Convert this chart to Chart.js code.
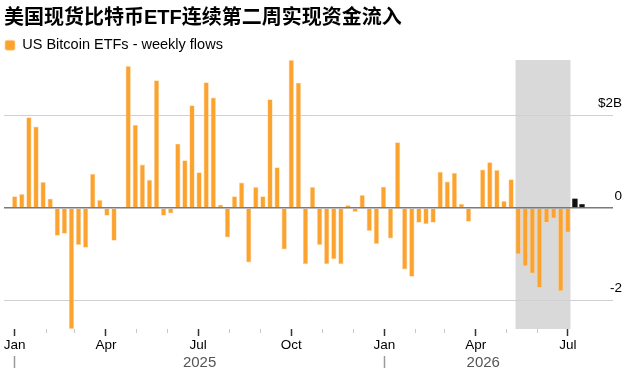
<!DOCTYPE html>
<html>
<head>
<meta charset="utf-8">
<script src="https://cdn.jsdelivr.net/npm/chart.js@4/dist/chart.umd.min.js"></script>
<style>
html, body { margin: 0; padding: 0; background: #ffffff; }
#wrap { width: 628px; height: 378px; }
</style>
</head>
<body>
<div id="wrap"><canvas id="c" width="628" height="378"></canvas></div>
<script>
// ---------- data ----------
const chartTitle = '美国现货比特币ETF连续第二周实现资金流入';
const seriesName = 'US Bitcoin ETFs - weekly flows';

const weeks = [
  '2025-01-01','2025-01-08','2025-01-15','2025-01-22','2025-01-29',
  '2025-02-05','2025-02-12','2025-02-19','2025-02-26',
  '2025-03-05','2025-03-12','2025-03-19','2025-03-26',
  '2025-04-02','2025-04-09','2025-04-16','2025-04-23','2025-04-30',
  '2025-05-07','2025-05-14','2025-05-21','2025-05-28',
  '2025-06-04','2025-06-11','2025-06-18','2025-06-25',
  '2025-07-02','2025-07-09','2025-07-16','2025-07-23','2025-07-30',
  '2025-08-06','2025-08-13','2025-08-20','2025-08-27',
  '2025-09-03','2025-09-10','2025-09-17','2025-09-24',
  '2025-10-01','2025-10-08','2025-10-15','2025-10-22','2025-10-29',
  '2025-11-05','2025-11-12','2025-11-19','2025-11-26',
  '2025-12-03','2025-12-10','2025-12-17','2025-12-24','2025-12-31',
  '2026-01-07','2026-01-14','2026-01-21','2026-01-28',
  '2026-02-04','2026-02-11','2026-02-18','2026-02-25',
  '2026-03-04','2026-03-11','2026-03-18','2026-03-25',
  '2026-04-01','2026-04-08','2026-04-15','2026-04-22','2026-04-29',
  '2026-05-06','2026-05-13','2026-05-20','2026-05-27',
  '2026-06-03','2026-06-10','2026-06-17','2026-06-24',
  '2026-07-01','2026-07-08','2026-07-15'
];

// weekly net flows, $ billions
const flows = [
  0.25, 0.30, 1.96, 1.76, 0.56,
  0.20, -0.60, -0.56, -2.62,
  -0.80, -0.86, 0.74, 0.17,
  -0.17, -0.71, 0.01, 3.07, 1.80,
  0.94, 0.61, 2.76, -0.17,
  -0.12, 1.39, 1.03, 2.22,
  0.77, 2.72, 2.39, 0.07, -0.64,
  0.25, 0.55, -1.18, 0.45,
  0.25, 2.35, 0.88, -0.90,
  3.20, 2.71, -1.22, 0.45, -0.80,
  -1.22, -1.11, -1.22, 0.06,
  -0.09, 0.28, -0.50, -0.78, 0.46,
  -0.66, 1.42, -1.33, -1.49,
  -0.32, -0.35, -0.32, 0.78,
  0.57, 0.76, 0.09, -0.30,
  0.02, 0.83, 0.99, 0.82, 0.15,
  0.62, -1.00, -1.26, -1.42,
  -1.73, -0.32, -0.23, -1.80,
  -0.53, 0.20, 0.08
];
const latestWeekCount = 2;   // most recent weeks, drawn in black

const yTicks = [-2, 0, 2];
const yTickLabels = ['-2', '0', '$2B'];

const monthTicks = [
  '2025-01-01','2025-02-01','2025-03-01','2025-04-01','2025-05-01','2025-06-01',
  '2025-07-01','2025-08-01','2025-09-01','2025-10-01','2025-11-01','2025-12-01',
  '2026-01-01','2026-02-01','2026-03-01','2026-04-01','2026-05-01','2026-06-01',
  '2026-07-01'
];
const monthTickLabels = [
  'Jan','','','Apr','','','Jul','','','Oct','','',
  'Jan','','','Apr','','','Jul'
];
const yearStarts = ['2025-01-01','2026-01-01'];
const yearLabels = ['2025','2026'];

const shadedWeeks = ['2026-05-13','2026-07-01'];

// ---------- helpers ----------
const DAY = 864e5;
const origin = Date.parse(weeks[0]);
const day = s => (Date.parse(s) - origin) / DAY;

const BAR_PCT = 0.75;
const ORANGE = '#FBA22F';
const FONT = "'Liberation Sans', Arial, sans-serif";

const cut = weeks.length - latestWeekCount;
const mainData = weeks.slice(0, cut).map((w, i) => ({ x: day(w), y: flows[i] }));
const latestData = weeks.slice(cut).map((w, i) => ({ x: day(w), y: flows[cut + i] }));

const monthVals = monthTicks.map(day);
const yearStartVals = yearStarts.map(day);
const lastWeekVal = day(weeks[weeks.length - 1]);
const yearTickList = [];
yearStartVals.forEach((v, i) => {
  const end = i + 1 < yearStartVals.length ? yearStartVals[i + 1] : lastWeekVal;
  yearTickList.push({ value: v, label: '', sep: true });
  yearTickList.push({ value: (v + end) / 2, label: yearLabels[i], sep: false });
});

const xMin = day(weeks[0]) - 10.6;
const xMax = lastWeekVal + 30.6;
const yMin = Math.min(...flows);
const yMax = Math.max(...flows);

Chart.defaults.font.family = FONT;
Chart.defaults.color = '#000';

const shadePlugin = {
  id: 'shade',
  beforeDraw(chart) {
    const { ctx, chartArea: a, scales: { x } } = chart;
    const half = 3.5 * BAR_PCT;
    const x0 = x.getPixelForValue(day(shadedWeeks[0]) - half);
    const x1 = x.getPixelForValue(day(shadedWeeks[1]) + half);
    ctx.save();
    ctx.fillStyle = '#d9d9d9';
    ctx.fillRect(x0, a.top, x1 - x0, a.bottom - a.top);
    ctx.restore();
  }
};

new Chart(document.getElementById('c'), {
  type: 'bar',
  data: {
    datasets: [
      {
        label: seriesName,
        data: mainData,
        backgroundColor: ORANGE,
        borderColor: '#FDD6A0',
        borderWidth: 0.7,
        barPercentage: BAR_PCT,
        categoryPercentage: 1,
        grouped: false
      },
      {
        label: 'latest',
        data: latestData,
        backgroundColor: '#111111',
        borderWidth: 0,
        barPercentage: BAR_PCT,
        categoryPercentage: 1,
        grouped: false
      }
    ]
  },
  options: {
    responsive: false,
    devicePixelRatio: 1,
    animation: false,
    layout: { padding: { left: 4, right: 6, top: 0, bottom: 0 } },
    plugins: {
      title: {
        display: true,
        text: chartTitle,
        align: 'start',
        color: '#000',
        font: { size: 20, weight: 'bold', family: "'Liberation Sans', 'Noto Sans CJK SC', sans-serif" },
        padding: { top: 6, bottom: 7 }
      },
      legend: {
        display: true,
        align: 'start',
        maxHeight: 23,
        labels: {
          boxWidth: 10,
          boxHeight: 10,
          padding: 1,
          color: '#000',
          font: { size: 14.5 },
          useBorderRadius: true,
          borderRadius: 2,
          filter: item => item.datasetIndex === 0
        }
      },
      tooltip: { enabled: false }
    },
    scales: {
      x: {
        type: 'linear',
        position: 'bottom',
        weight: 0,
        min: xMin,
        max: xMax,
        offset: false,
        border: { display: false },
        grid: {
          offset: false,
          drawOnChartArea: false,
          drawTicks: true,
          tickLength: 7,
          tickColor: c => monthTickLabels[c.index] ? '#333' : '#c8c8c8',
          tickWidth: c => monthTickLabels[c.index] ? 1.5 : 1,
          tickBorderDash: c => monthTickLabels[c.index] ? [] : [4, 20]
        },
        ticks: {
          autoSkip: false,
          maxRotation: 0,
          minRotation: 0,
          padding: 1,
          color: '#000',
          font: { size: 13.5 },
          callback: (v, i) => monthTickLabels[i]
        },
        afterBuildTicks: s => { s.ticks = monthVals.map(v => ({ value: v })); },
        afterFit: s => { s.height = 27; }
      },
      x2: {
        type: 'linear',
        position: 'bottom',
        weight: 1,
        min: xMin,
        max: xMax,
        offset: false,
        border: { display: false },
        grid: {
          offset: false,
          drawOnChartArea: false,
          drawTicks: true,
          tickLength: 12,
          tickColor: c => yearTickList[c.index] && yearTickList[c.index].sep ? '#9a9a9a' : 'rgba(0,0,0,0)',
          tickWidth: 1.5
        },
        ticks: {
          autoSkip: false,
          maxRotation: 0,
          minRotation: 0,
          padding: -14,
          color: '#555',
          font: { size: 15 },
          callback: (v, i) => yearTickList[i].label
        },
        afterBuildTicks: s => { s.ticks = yearTickList.map(t => ({ value: t.value })); },
        afterFit: s => { s.height = 22; }
      },
      y: {
        type: 'linear',
        position: 'right',
        min: yMin,
        max: yMax,
        border: { display: false },
        grid: {
          drawTicks: false,
          color: c => c.tick && c.tick.value === 0 ? '#7a7a7a' : '#d0d0d0',
          lineWidth: c => c.tick && c.tick.value === 0 ? 1.5 : 1
        },
        ticks: {
          mirror: true,
          labelOffset: -12,
          padding: 9,
          color: '#000',
          font: { size: 13.5 },
          callback: v => yTickLabels[yTicks.indexOf(v)]
        },
        afterBuildTicks: s => { s.ticks = yTicks.map(v => ({ value: v })); },
        afterFit: s => { s.width = 9; }
      }
    }
  },
  plugins: [shadePlugin]
});
</script>
</body>
</html>
